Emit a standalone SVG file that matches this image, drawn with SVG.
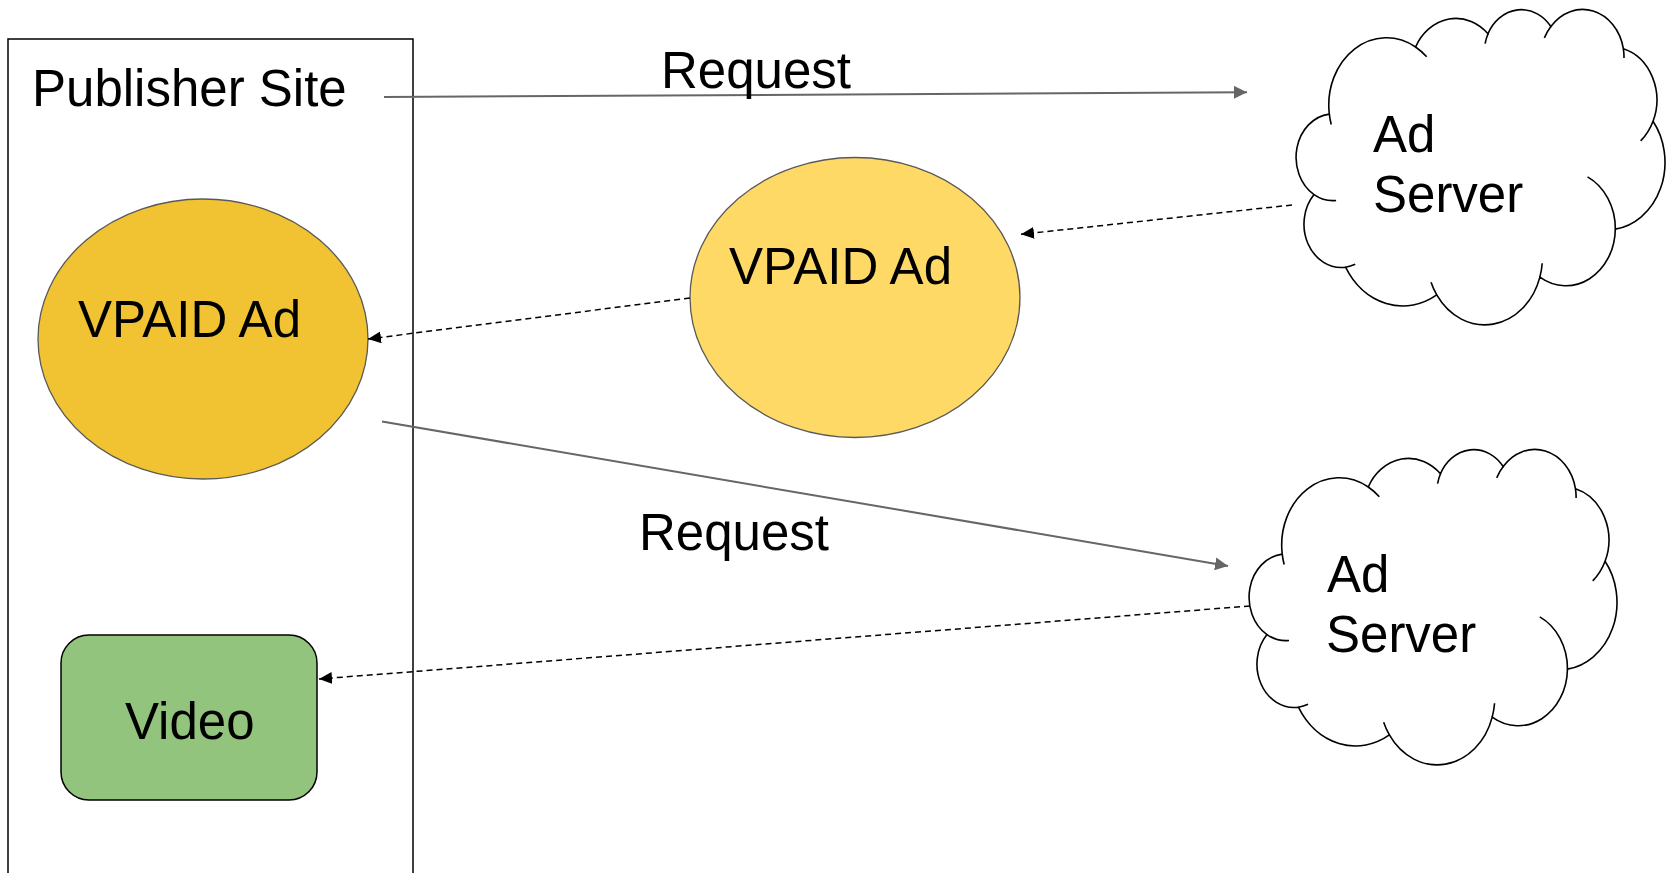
<svg xmlns="http://www.w3.org/2000/svg" xmlns:xlink="http://www.w3.org/1999/xlink" width="1669" height="873" viewBox="0 0 1669 873">
<style>
text{font-family:"Liberation Sans",Arial,sans-serif;font-size:51px;fill:#000}
.ell{stroke:#595959;stroke-width:1.3}
.cl{fill:#fff;stroke:#000;stroke-width:1.6}
.ci{fill:none;stroke:#000;stroke-width:1.6}
.req{stroke:#666;stroke-width:2;fill:none;marker-end:url(#ag)}
.ret{stroke:#000;stroke-width:1.5;fill:none;stroke-dasharray:6 4;marker-end:url(#ab)}
</style>
<defs>
<marker id="ag" markerUnits="userSpaceOnUse" markerWidth="14" markerHeight="13" refX="13" refY="6.5" orient="auto"><path d="M0,0 L13,6.5 L0,13 Z" fill="#666"/></marker>
<marker id="ab" markerUnits="userSpaceOnUse" markerWidth="14" markerHeight="13" refX="13" refY="6" orient="auto"><path d="M0,0 L13,6 L0,12 Z" fill="#000"/></marker>
<path id="cloudOuter" vector-effect="non-scaling-stroke" d="M3900 14370 A6753 9190 0 0 1 14000 5192 A5333 7267 0 0 1 22480 3380 A4365 5945 0 0 1 29840 2400 A4857 6595 0 0 1 38324 5426 A5333 7273 0 0 1 41798 15354 A6775 9220 0 0 1 37384 30097 A5785 7867 0 0 1 28550 36650 A6752 9215 0 0 1 16478 39090 A7720 10543 0 0 1 5802 35296 A4360 5918 0 0 1 2111 25374 A4345 5945 0 0 1 3900 14370 Z"/>
<path id="cloudInner" vector-effect="non-scaling-stroke" d="M4693 26177 A4345 5945 0 0 1 2111 25374 M6928 34899 A4360 5918 0 0 1 5802 35296 M16478 39090 A6752 9215 0 0 1 15810 37350 M28827 34751 A6752 9215 0 0 1 28550 36650 M34129 22954 A5785 7867 0 0 1 37384 30097 M41798 15354 A5333 7273 0 0 1 40350 18030 M38324 5426 A4857 6595 0 0 1 38400 6690 M29078 3952 A4857 6595 0 0 1 29840 2400 M22141 4720 A4365 5945 0 0 1 22480 3380 M14000 5192 A6753 9190 0 0 1 15300 6540 M4127 15789 A6753 9190 0 0 1 3900 14370"/>
</defs>
<rect width="1669" height="873" fill="#fff"/>

<g id="publisher-site">
<rect x="8" y="39" width="405" height="860" fill="none" stroke="#000" stroke-width="1.5"/>
<text x="32" y="106">Publisher Site</text>
</g>

<g id="vpaid-ad-left">
<ellipse class="ell" cx="203" cy="339" rx="165" ry="140" fill="#F1C232"/>
<text x="78" y="337">VPAID Ad</text>
</g>

<g id="vpaid-ad-center">
<ellipse class="ell" cx="855" cy="297.5" rx="165" ry="140" fill="#FFD966"/>
<text x="729" y="284">VPAID Ad</text>
</g>

<g id="video">
<rect x="61" y="635" width="256" height="165" rx="28" ry="28" fill="#93C47D" stroke="#000" stroke-width="1.5"/>
<text x="125" y="739">Video</text>
</g>

<g id="ad-server-1">
<g transform="translate(1296,9) scale(0.0085417,0.0073148)">
<use xlink:href="#cloudOuter" class="cl"/>
<use xlink:href="#cloudInner" class="ci"/>
</g>
<text x="1373" y="152">Ad</text>
<text x="1373" y="212">Server</text>
</g>

<g id="ad-server-2">
<g transform="translate(1249,449) scale(0.0085185,0.0073148)">
<use xlink:href="#cloudOuter" class="cl"/>
<use xlink:href="#cloudInner" class="ci"/>
</g>
<text x="1327" y="592">Ad</text>
<text x="1326" y="652">Server</text>
</g>

<g id="connectors">
<path class="req" d="M384 97 L1247 92.3"/>
<path class="ret" d="M1292 205 L1021 234.3"/>
<path class="ret" d="M690 298 L368 339"/>
<path class="req" d="M382 421.5 L1228 566"/>
<path class="ret" d="M1250 606 L319 679"/>
<text x="661" y="88">Request</text>
<text x="639" y="550">Request</text>
</g>
</svg>
